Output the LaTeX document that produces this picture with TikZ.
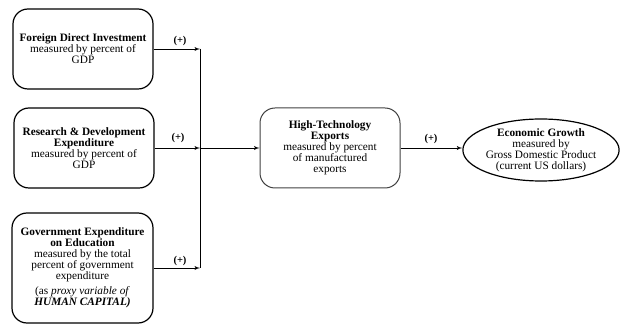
\documentclass[tikz,border=0pt]{standalone}
\usepackage{fontspec}
\setmainfont{Liberation Serif}
\usetikzlibrary{arrows,shapes.geometric}

\begin{document}
\begin{tikzpicture}[x=1pt,y=1pt]

\tikzset{factor/.style = {shape=rectangle,rounded corners=15pt,draw,line width=1.2pt,align=center,minimum width=140pt,minimum height=80pt,inner sep=2pt,font=\fontsize{11.3}{11}\selectfont}}
\tikzset{outcome/.style = {shape=ellipse,draw,line width=1.2pt,align=center,minimum width=156pt,minimum height=62pt,inner sep=0pt,font=\fontsize{11.3}{11}\selectfont}}
\tikzset{edge/.style = {->,> = latex',line width=0.9pt}}
\tikzset{sign/.style = {font=\bfseries\fontsize{10.5}{11}\selectfont}}

\useasboundingbox (0,0) rectangle (622,324);

% factors
\node[factor] (fdi) at (83,275) {\textbf{Foreign Direct Investment}\\measured by percent of\\GDP};
\node[factor] (rnd) at (84,176) {\textbf{Research \& Development}\\\textbf{Expenditure}\\measured by percent of\\GDP};
\node[factor,minimum width=141pt,minimum height=110pt] (edu) at (82.5,56) {\textbf{Government Expenditure}\\\textbf{on Education}\\measured by the total\\percent of government\\expenditure\\[3.5pt](as \textit{proxy variable of}\\\textbf{\textit{HUMAN CAPITAL)}}};
\node[factor,draw=black!75,line width=1pt] (hte) at (330,176) {\textbf{High-Technology}\\\textbf{Exports}\\measured by percent\\of manufactured\\exports};
\node[outcome] (eg) at (541,174) {\textbf{Economic Growth}\\measured by\\Gross Domestic Product\\(current US dollars)};

% junction
\coordinate (j1) at (200,275);
\coordinate (j2) at (200,176);
\coordinate (j3) at (200,56);

%edges
\draw[line width=0.9pt] (j1) -- (j3);
\draw[edge] (fdi) -- (j1);
\draw[edge] (rnd) -- (j2);
\draw[edge] (edu) -- (j3);
\draw[edge] (j2) -- (hte);
\draw[edge] (hte.east) -- (hte.east -| eg.west);

% signs
\node[sign] (s1) at (180,283) {(+)};
\node[sign] (s2) at (178,186) {(+)};
\node[sign] (s3) at (180,63) {(+)};
\node[sign] (s4) at (431,185) {(+)};
\end{tikzpicture}
\end{document}
